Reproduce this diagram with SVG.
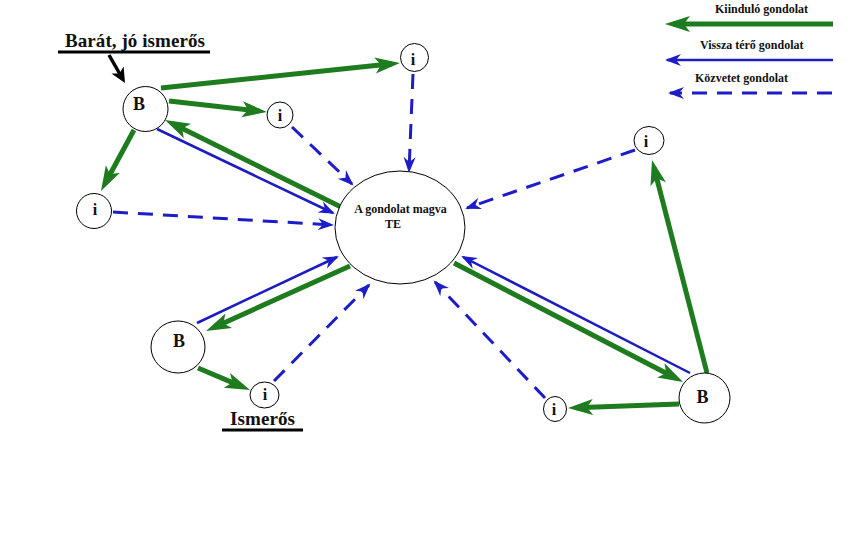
<svg xmlns="http://www.w3.org/2000/svg" width="851" height="536" viewBox="0 0 851 536">
<style>
.bg{fill:#ffffff}
.node{fill:#ffffff;stroke:#000000;stroke-width:1}
.t{font-family:"Liberation Serif","Times New Roman",serif;font-weight:bold;fill:#111111}
.lg{font-size:12px}
.big{font-size:19px}
.bl{font-size:18px;text-anchor:middle}
.il{font-size:16px;text-anchor:middle}
.ct{font-size:12px;text-anchor:middle}
.g{stroke:#1e7b1e;stroke-width:5;fill:none;marker-end:url(#ag)}
.b{stroke:#1c1cc0;stroke-width:2.5;fill:none;marker-end:url(#ab)}
.d{stroke:#1c1cc8;stroke-width:3;fill:none;stroke-dasharray:15 10;marker-end:url(#ab)}
.k{stroke:#000000;stroke-width:3.5;fill:none;marker-end:url(#ak)}
.ul{stroke:#000000;stroke-width:3}
</style>
<defs>
<marker id="ag" markerUnits="userSpaceOnUse" markerWidth="26" markerHeight="18" viewBox="0 0 26 18" refX="17" refY="9" orient="auto">
<path d="M25,9 L0,1 L6,9 L0,17 Z" fill="#1e7b1e"/>
</marker>
<marker id="ab" markerUnits="userSpaceOnUse" markerWidth="17" markerHeight="14" viewBox="0 0 17 14" refX="14" refY="7" orient="auto">
<path d="M16,7 L0,1 L5,7 L0,13 Z" fill="#1c1cc8"/>
</marker>
<marker id="ak" markerUnits="userSpaceOnUse" markerWidth="16" markerHeight="14" viewBox="0 0 16 14" refX="11" refY="7" orient="auto">
<path d="M15,7 L0,0 L4,7 L0,14 Z" fill="#000000"/>
</marker>
</defs>
<rect class="bg" x="0" y="0" width="851" height="536"/>

<g id="legend">
<text class="t lg" x="715" y="13">Kiinduló gondolat</text>
<line class="g" x1="833" y1="24" x2="673" y2="24"/>
<text class="t lg" x="700" y="49">Vissza térő gondolat</text>
<line class="b" x1="833" y1="60" x2="667" y2="60"/>
<text class="t lg" x="695" y="82">Közvetet gondolat</text>
<line class="d" x1="832" y1="93" x2="670" y2="93"/>
</g>

<g id="connectors">
<line class="k" x1="109" y1="55" x2="123" y2="79.5"/>
<line class="g" x1="161" y1="88" x2="392" y2="63.8"/>
<line class="g" x1="169" y1="101" x2="259" y2="111.1"/>
<line class="g" x1="134" y1="130" x2="104.8" y2="184"/>
<line class="g" x1="341" y1="207" x2="172.2" y2="123.5"/>
<line class="b" x1="157" y1="129" x2="333" y2="213"/>
<line class="g" x1="350" y1="266" x2="213.3" y2="327.7"/>
<line class="b" x1="197" y1="323" x2="337" y2="257"/>
<line class="g" x1="198" y1="368" x2="242.6" y2="386.9"/>
<line class="g" x1="454" y1="263" x2="675.9" y2="378.3"/>
<line class="b" x1="690" y1="373" x2="463" y2="257"/>
<line class="g" x1="679" y1="404" x2="576" y2="407.7"/>
<line class="g" x1="707" y1="373" x2="654" y2="167.7"/>
<line class="d" x1="292" y1="127" x2="352" y2="184"/>
<line class="d" x1="413" y1="74" x2="409" y2="171"/>
<line class="d" x1="113" y1="212" x2="332" y2="225"/>
<line class="d" x1="635" y1="150" x2="467" y2="208"/>
<line class="d" x1="274" y1="381" x2="369" y2="285"/>
<line class="d" x1="545" y1="398" x2="435" y2="282"/>
</g>

<g id="label-barat">
<text class="t big" x="65" y="47" textLength="140">Barát, jó ismerős</text>
<line class="ul" x1="58" y1="52" x2="210" y2="52"/>
</g>
<g id="label-ismeros">
<text class="t big" x="230" y="425" textLength="65">Ismerős</text>
<line class="ul" x1="222" y1="430" x2="303" y2="430"/>
</g>

<g id="core">
<ellipse class="node" cx="400" cy="227.5" rx="65" ry="56.5"/>
<text class="t ct" x="400.5" y="213">A gondolat magva</text>
<text class="t ct" x="393" y="228">TE</text>
</g>
<g id="b-topleft">
<circle class="node" cx="145.5" cy="109" r="22.5"/>
<text class="t bl" x="139" y="110">B</text>
</g>
<g id="b-bottomleft">
<ellipse class="node" cx="178" cy="347" rx="27" ry="26"/>
<text class="t bl" x="179" y="347">B</text>
</g>
<g id="b-bottomright">
<ellipse class="node" cx="704.5" cy="398" rx="25.5" ry="25"/>
<text class="t bl" x="702.5" y="403">B</text>
</g>
<g id="i-top">
<circle class="node" cx="414.5" cy="57.5" r="14"/>
<text class="t il" x="413" y="65">i</text>
</g>
<g id="i-middle">
<circle class="node" cx="280" cy="115" r="13"/>
<text class="t il" x="280" y="121">i</text>
</g>
<g id="i-left">
<circle class="node" cx="94" cy="211" r="17.5"/>
<text class="t il" x="95" y="215">i</text>
</g>
<g id="i-topright">
<ellipse class="node" cx="649" cy="140.5" rx="15" ry="14"/>
<text class="t il" x="646" y="147">i</text>
</g>
<g id="i-bottomleft">
<ellipse class="node" cx="264.5" cy="395" rx="14.5" ry="13"/>
<text class="t il" x="265" y="400">i</text>
</g>
<g id="i-bottomright">
<ellipse class="node" cx="555" cy="409" rx="11.5" ry="12.5"/>
<text class="t il" x="554" y="415">i</text>
</g>
</svg>
